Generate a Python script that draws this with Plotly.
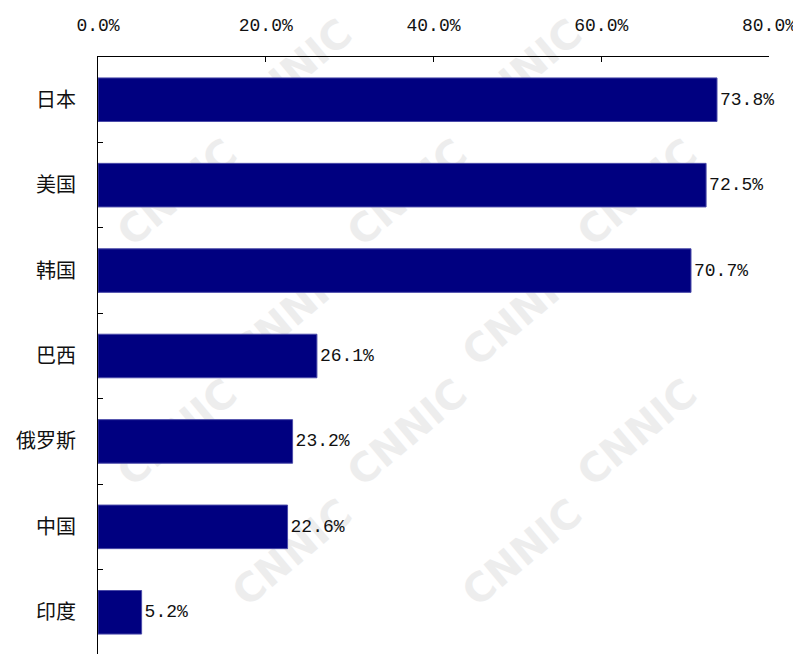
import plotly.graph_objects as go

categories = ["日本", "美国", "韩国", "巴西", "俄罗斯", "中国", "印度"]
values = [73.8, 72.5, 70.7, 26.1, 23.2, 22.6, 5.2]
tick_vals = [0, 20, 40, 60, 80]
tick_text = ["0.0%", "20.0%", "40.0%", "60.0%", "80.0%"]
watermark_text = "CNNIC"

MONO = "Liberation Mono, DejaVu Sans Mono, monospace"

fig = go.Figure()
fig.add_trace(go.Bar(
    x=values,
    y=categories,
    orientation="h",
    marker=dict(color="#000080", line=dict(color="#4a4aa8", width=1)),
    text=[f"{v:.1f}%" for v in values],
    textposition="outside",
    textfont=dict(family=MONO, size=18, color="#111111"),
    cliponaxis=False,
    hoverinfo="skip",
))

# page body has an 8px margin, so the figure is offset by (8, 8) on screen
OFF = 8.0
W, H = 801.0, 654.0
pl, pr, pt, pb = 90.0, 40.0, 49.0, 7.0
pw, ph = W - pl - pr, H - pt - pb

# faint tiled watermark beneath the bars, kept fully inside the window
shapes = []
half_w, half_h = 62, 52
row = 0
for sy in range(70, 660, 120):
    off = (row % 2) * 115
    for sx in range(60 + off, 801, 230):
        if sx - half_w < 0 or sx + half_w > 801 or sy - half_h < 0 or sy + half_h > 654:
            continue
        fx, fy = sx - OFF, sy - OFF
        xc = (fx - pl) / pw
        yc = 1 - (fy - pt) / ph
        shapes.append(dict(
            type="rect", xref="paper", yref="paper",
            x0=xc - 0.02, x1=xc + 0.02, y0=yc - 0.02, y1=yc + 0.02,
            line=dict(width=0), fillcolor="rgba(0,0,0,0)", layer="below",
            label=dict(text=watermark_text, textangle=-40, textposition="middle center",
                       font=dict(family="DejaVu Sans", size=40, color="#ededed", weight="bold")),
        ))
    row += 1

fig.update_layout(
    width=801,
    height=654,
    margin=dict(l=pl, r=pr, t=pt, b=pb, autoexpand=False),
    paper_bgcolor="white",
    plot_bgcolor="rgba(0,0,0,0)",
    bargap=0.49,
    showlegend=False,
    shapes=shapes,
    xaxis=dict(
        side="top",
        range=[0, 80],
        tickvals=tick_vals,
        ticktext=tick_text,
        ticks="inside",
        ticklen=5,
        tickcolor="black",
        showline=True,
        linecolor="black",
        linewidth=1,
        showgrid=False,
        zeroline=False,
        automargin=False,
        ticklabelstandoff=18,
        tickfont=dict(family=MONO, size=18, color="#111111"),
    ),
    yaxis=dict(
        type="category",
        autorange="reversed",
        ticks="inside",
        tickson="boundaries",
        ticklen=5,
        tickcolor="black",
        showline=True,
        linecolor="black",
        linewidth=1,
        showgrid=False,
        zeroline=False,
        automargin=False,
        ticklabelstandoff=17,
        tickfont=dict(family="Noto Sans CJK SC", size=20, color="#111111"),
    ),
)

fig.write_html("out.html")
